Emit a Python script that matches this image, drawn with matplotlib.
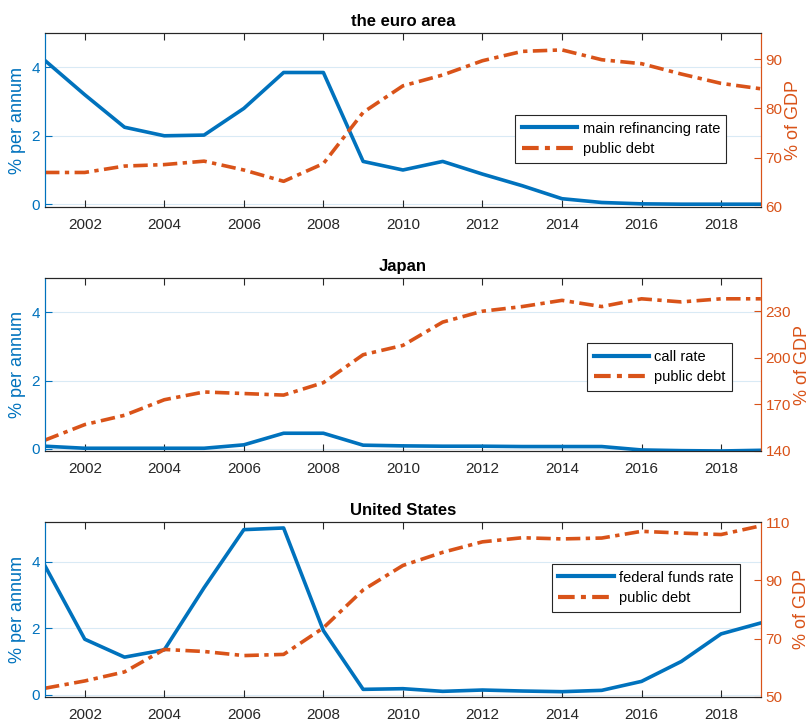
import matplotlib
matplotlib.use("Agg")
import matplotlib.pyplot as plt
import numpy as np

plt.rcParams['font.family'] = ['Liberation Sans', 'DejaVu Sans']

years = list(range(2001, 2020))

euro_rate = [4.2, 3.2, 2.25, 2.0, 2.02, 2.8, 3.85, 3.85, 1.25, 1.0, 1.25, 0.88, 0.54, 0.16, 0.05, 0.01, 0.0, 0.0, 0.0]
euro_debt = [67.0, 67.0, 68.3, 68.6, 69.3, 67.5, 65.2, 68.8, 79.2, 84.6, 86.8, 89.7, 91.6, 91.9, 89.9, 89.1, 87.0, 85.1, 84.0]

japan_rate = [0.08, 0.02, 0.02, 0.02, 0.02, 0.12, 0.46, 0.46, 0.11, 0.09, 0.08, 0.08, 0.07, 0.07, 0.07, -0.03, -0.05, -0.06, -0.04]
japan_debt = [147, 157, 163, 173, 178, 177, 176, 184, 202, 208, 223, 230, 233, 237, 233, 238, 236, 238, 238]

us_rate = [3.88, 1.67, 1.13, 1.35, 3.22, 4.97, 5.02, 1.93, 0.16, 0.18, 0.10, 0.14, 0.11, 0.09, 0.13, 0.40, 1.00, 1.83, 2.16]
us_debt = [53.0, 55.5, 58.6, 66.3, 65.6, 64.2, 64.6, 73.7, 86.7, 95.1, 99.6, 103.2, 104.6, 104.2, 104.5, 106.8, 106.2, 105.7, 108.7]

panels = [
    dict(title="the euro area", rate=euro_rate, debt=euro_debt, rate_label="main refinancing rate",
         ylim=(-0.08, 5.0), rticks=[60, 70, 80, 90], rlim=(60, 95.3), lticks=[0, 2, 4],
         rect=[0.0554, 0.713, 0.8816, 0.241], leg=(0.952, 0.529)),
    dict(title="Japan", rate=japan_rate, debt=japan_debt, rate_label="call rate",
         ylim=(-0.06, 5.0), rticks=[140, 170, 200, 230], rlim=(140, 251.2), lticks=[0, 2, 4],
         rect=[0.0554, 0.3745, 0.8816, 0.2395], leg=(0.960, 0.624)),
    dict(title="United States", rate=us_rate, debt=us_debt, rate_label="federal funds rate",
         ylim=(-0.07, 5.2), rticks=[50, 70, 90, 110], rlim=(50, 110), lticks=[0, 2, 4],
         rect=[0.0554, 0.0333, 0.8816, 0.2427], leg=(0.971, 0.76)),
]

blue = '#0072BD'
orange = '#D95319'
dark = '#262626'

fig = plt.figure(figsize=(8.12, 7.21), dpi=100)

for p in panels:
    ax = fig.add_axes(p['rect'])
    ax2 = ax.twinx()
    l1, = ax.plot(years, p['rate'], color=blue, lw=2.6, label=p['rate_label'], zorder=3)
    l2, = ax2.plot(years, p['debt'], color=orange, lw=2.6, ls=(0, (4, 1.5, 1.2, 1.5)), label='public debt')
    ax.set_xlim(2001, 2019)
    ax.set_ylim(*p['ylim'])
    ax2.set_ylim(*p['rlim'])
    ax.set_yticks(p['lticks'])
    ax2.set_yticks(p['rticks'])
    ax.set_xticks(range(2002, 2019, 2))
    ax.grid(axis='y', color=blue, alpha=0.15, lw=0.8)
    ax.set_axisbelow(True)
    ax.tick_params(axis='x', direction='in', top=True, colors=dark, labelsize=11, length=5, pad=8)
    ax.tick_params(axis='y', direction='in', colors=blue, labelsize=11, length=5)
    ax2.tick_params(axis='y', direction='in', colors=orange, labelsize=11, length=5)
    for a in (ax, ax2):
        a.spines['top'].set_color(dark)
        a.spines['bottom'].set_color(dark)
        a.spines['left'].set_color(blue)
        a.spines['right'].set_color(orange)
    ax.set_ylabel('% per annum', color=blue, fontsize=13, labelpad=4)
    ax2.set_ylabel('% of GDP', color=orange, fontsize=13, labelpad=2)
    ax.set_title(p['title'], fontsize=12, fontweight='bold', pad=5)
    leg = ax2.legend([l1, l2], [p['rate_label'], 'public debt'], loc='upper right',
                     bbox_to_anchor=p['leg'], fancybox=False, framealpha=1,
                     edgecolor=dark, fontsize=10.5, handlelength=3.8, borderpad=0.45,
                     labelspacing=0.45, handletextpad=0.35, borderaxespad=0)
    leg.get_frame().set_linewidth(0.8)
    for h in leg.get_lines():
        h.set_linewidth(3)

fig.savefig('out.png', dpi=100)
